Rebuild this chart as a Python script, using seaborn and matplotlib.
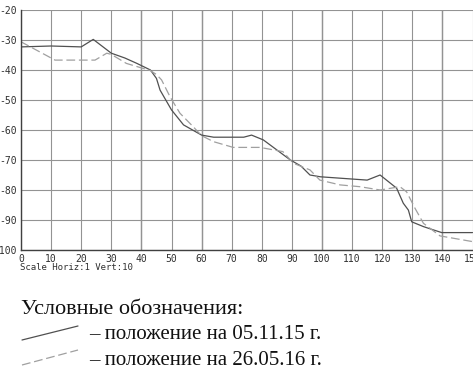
import pandas as pd
import matplotlib
matplotlib.use("Agg")
import matplotlib.pyplot as plt
from matplotlib.lines import Line2D
import seaborn as sns

# profile 05.11.15 (solid)
x_2015 = [0, 10, 20, 24, 30, 34.5, 38.5, 43, 45, 46.2, 50, 54, 60, 64, 74, 76.6,
          80.5, 89.5, 93, 96, 99.5, 115, 119.3, 124.8, 127, 128.7, 129.8, 133.7,
          136.4, 139.8, 150]
y_2015 = [-32.3, -32, -32.3, -29.8, -34.4, -36, -37.8, -40, -42.8, -46.7, -53.3,
          -58.3, -61.7, -62.4, -62.4, -61.7, -63.3, -70, -72, -75, -75.6, -76.7,
          -75, -79.4, -84.4, -86.7, -90.6, -92.2, -93.1, -94.2, -94.2]

# profile 26.05.16 (dashed)
x_2016 = [0, 11.3, 24.6, 28.5, 30, 35, 43, 45, 46.7, 49.5, 52.8, 57.2, 60, 64,
          70.5, 79.4, 87, 90.5, 96, 99.3, 106, 112.6, 119.3, 125.9, 128.1, 130.9,
          133.7, 139.2, 150]
y_2016 = [-30.6, -36.7, -36.7, -34.4, -34.8, -37.8, -40.2, -41.5, -43.3, -48.9,
          -54.4, -58.9, -61.9, -63.9, -65.8, -65.8, -67.2, -71.1, -73.3, -76.7,
          -78.3, -78.9, -80, -78.9, -80.6, -86.1, -91.1, -95.3, -97.2]

x_ticks = list(range(0, 151, 10))
y_ticks = list(range(-100, -19, 10))
dark_x = [40, 60, 100, 140]

title_text = "Условные обозначения:"
label_2015 = "– положение на 05.11.15 г."
label_2016 = "– положение на 26.05.16 г."
scale_text = "Scale Horiz:1 Vert:10"

df15 = pd.DataFrame({"x": x_2015, "y": y_2015})
df16 = pd.DataFrame({"x": x_2016, "y": y_2016})

sns.set_style("white")
plt.rcParams["font.family"] = ["DejaVu Sans"]
plt.rcParams["axes.unicode_minus"] = False

W, H = 473, 373
fig = plt.figure(figsize=(W / 100, H / 100), dpi=100)
ax = fig.add_axes([21 / W, (H - 250) / H, 451.5 / W, 240 / H])

sns.lineplot(data=df15, x="x", y="y", ax=ax, color="#505050", lw=0.9,
             sort=False, estimator=None)
sns.lineplot(data=df16, x="x", y="y", ax=ax, color="#a0a0a0", lw=0.9,
             sort=False, estimator=None, dashes=False, linestyle=(0, (7, 3)))

ax.set_xlim(0, 150)
ax.set_ylim(-100, -20)
ax.set_xticks(x_ticks)
ax.set_yticks(y_ticks)
ax.grid(True, color="#939393", lw=0.8)
for xv in dark_x:
    ax.axvline(xv, color="#5f5f5f", lw=0.9, zorder=0.5)
ax.set_axisbelow(True)
ax.set_xlabel("")
ax.set_ylabel("")
for s in ["top", "right"]:
    ax.spines[s].set_visible(False)
for s in ["left", "bottom"]:
    ax.spines[s].set_color("#404040")
    ax.spines[s].set_linewidth(1.0)
ax.tick_params(axis="both", length=2, width=0.8, color="#606060",
               labelsize=7, labelcolor="#303030", pad=1)
for lab in ax.get_xticklabels() + ax.get_yticklabels():
    lab.set_family("DejaVu Sans Mono")

fig.text(20 / W, 1 - 270 / H, scale_text, family="DejaVu Sans Mono",
         fontsize=6.5, color="#303030", va="baseline")

# legend block below the chart
serif = "Liberation Serif"
fig.text(21 / W, 1 - 314 / H, title_text, family=serif, fontsize=16,
         va="baseline", color="#111111")
fig.text(89 / W, 1 - 339 / H, label_2015, family=serif, fontsize=15,
         va="baseline", color="#111111")
fig.text(89 / W, 1 - 365 / H, label_2016, family=serif, fontsize=15,
         va="baseline", color="#111111")
fig.add_artist(Line2D([22 / W, 78 / W], [1 - 340 / H, 1 - 326 / H],
                      transform=fig.transFigure, color="#505050", lw=0.9))
fig.add_artist(Line2D([22 / W, 78 / W], [1 - 365 / H, 1 - 350 / H],
                      transform=fig.transFigure, color="#a0a0a0", lw=0.9,
                      linestyle=(0, (7, 3))))

fig.savefig("out.png", dpi=100)
